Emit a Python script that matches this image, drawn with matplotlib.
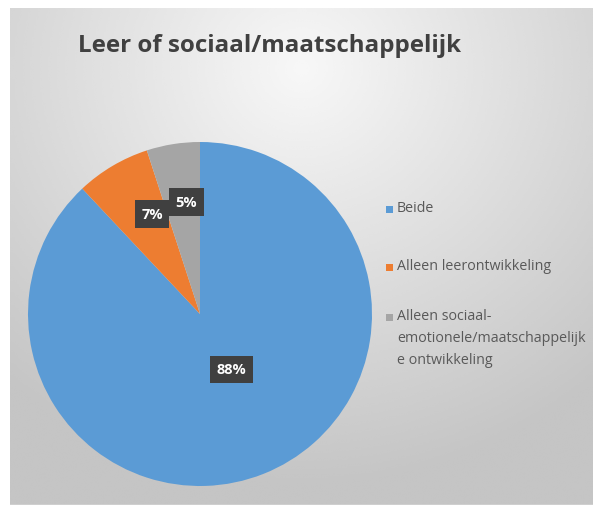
import numpy as np
import matplotlib
matplotlib.use("Agg")
import matplotlib.pyplot as plt
from matplotlib.patches import Rectangle

# data
categories = ["Beide", "Alleen leerontwikkeling",
              "Alleen sociaal-\nemotionele/maatschappelijk\ne ontwikkeling"]
values = [88, 7, 5]
pct_labels = ["88%", "7%", "5%"]
colors = ["#5B9BD5", "#ED7D31", "#A5A5A5"]
label_dist = [0.37, 0.645, 0.656]
label_turn = [8.4, -5, -2]   # Excel "best fit" nudges, degrees

W, H = 593, 506
fig = plt.figure(figsize=(W / 100, H / 100), dpi=100)
fig.patch.set_facecolor("white")

# gray gradient background of the chart area
bg = fig.add_axes([10 / W, 0, 1 - 10 / W, 1 - 9 / H])
yy, xx = np.mgrid[0:1:300j, 0:1:300j]
d = np.sqrt(((xx - 0.5) / 1.0) ** 2 + ((yy - 0.12) / 1.1) ** 2)
shade = np.clip(0.97 - 0.26 * d, 0.77, 0.97)
bg.imshow(shade, cmap="gray", vmin=0, vmax=1, aspect="auto",
          extent=[0, 1, 1, 0], interpolation="bicubic")
bg.axhline(1, color="#cfcfcf", lw=1.5)
bg.set_axis_off()
bg.set_xlim(0, 1)
bg.set_ylim(1, 0)

# pie: centre (200, 315) px, radius 172 px
cx, cy, r = 200, 315, 172
ax = fig.add_axes([(cx - r) / W, (H - cy - r) / H, 2 * r / W, 2 * r / H])
wedges, _ = ax.pie(values, colors=colors, startangle=90, counterclock=False,
                   radius=1, wedgeprops=dict(linewidth=0))
ax.set_xlim(-1, 1)
ax.set_ylim(-1, 1)
ax.set_aspect("equal")

for w, lab, dist, turn in zip(wedges, pct_labels, label_dist, label_turn):
    ang = np.deg2rad((w.theta1 + w.theta2) / 2 + turn)
    ax.text(dist * np.cos(ang), dist * np.sin(ang), lab, ha="center", va="center",
            color="white", fontsize=10.5, fontweight="bold", family="Open Sans",
            bbox=dict(boxstyle="square,pad=0.45", fc="#404040", ec="none"))

fig.text(270 / W, 1 - 46 / H, "Leer of sociaal/maatschappelijk", ha="center", va="center",
         fontsize=17.4, fontweight="bold", color="#404040", family="Open Sans")

# legend, Excel style: marker next to first line of each entry
leg_y = [210, 268, 318]
for lab, col, y in zip(categories, colors, leg_y):
    fig.patches.append(Rectangle((386 / W, 1 - (y + 3.5) / H), 7 / W, 7 / H,
                                 transform=fig.transFigure, fc=col, ec="none"))
    fig.text(397 / W, 1 - (y - 9.5) / H, lab, ha="left", va="top", fontsize=10.3,
             color="#595959", family="Open Sans", linespacing=1.65)

fig.savefig("out.png", dpi=100)
